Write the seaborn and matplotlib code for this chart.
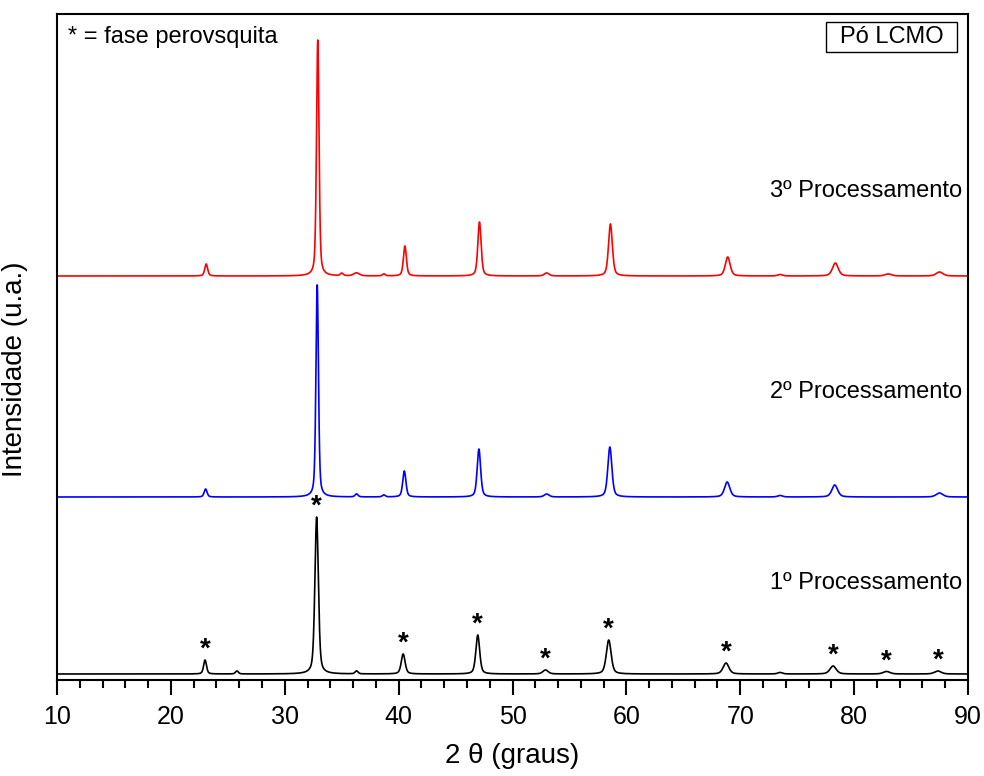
import numpy as np
import pandas as pd
import matplotlib
matplotlib.use("Agg")
import matplotlib.pyplot as plt
from matplotlib.patches import Rectangle
import seaborn as sns

# ---- data (intensity in arbitrary units) ----
pos_1 = [23.0, 25.8, 32.8, 36.3, 40.4, 46.95, 52.9, 58.45, 68.75, 73.5, 78.15, 82.85, 87.35]
h_1 = [14, 3, 157, 3, 20, 39, 4, 34, 11, 1.5, 8, 2.5, 3]
w_1 = [0.3, 0.3, 0.36, 0.3, 0.4, 0.4, 0.55, 0.5, 0.6, 0.5, 0.65, 0.7, 0.7]

pos_2 = [23.05, 32.85, 36.3, 38.7, 40.5, 47.05, 53.0, 58.55, 68.85, 73.5, 78.3, 87.5]
h_2 = [8, 213, 3, 2, 26, 48, 3, 50, 15, 1.5, 12, 4]
w_2 = [0.3, 0.26, 0.3, 0.3, 0.33, 0.36, 0.5, 0.42, 0.55, 0.5, 0.6, 0.7]

pos_3 = [23.1, 32.9, 35.0, 36.3, 38.7, 40.55, 47.1, 53.0, 58.6, 68.9, 73.5, 78.35, 83.0, 87.5]
h_3 = [12, 236, 2.5, 3, 2, 30, 54, 3, 52, 19, 1.5, 13, 2, 4]
w_3 = [0.3, 0.26, 0.3, 0.6, 0.3, 0.31, 0.34, 0.5, 0.4, 0.5, 0.5, 0.6, 0.7, 0.7]

offsets = [6, 183, 404]
labels = ["1º Processamento", "2º Processamento", "3º Processamento"]
label_y = [97, 288, 489]
colors = ["black", "blue", "red"]

star_pos = [23.0, 32.8, 40.4, 46.95, 52.9, 58.45, 68.75, 78.15, 82.85, 87.35]
star_h = [14, 157, 20, 39, 4, 34, 11, 8, 2.5, 3]

x_ticks = [10, 20, 30, 40, 50, 60, 70, 80, 90]


def pattern(x, pos, h, w):
    y = np.zeros_like(x)
    for p, a, fw in zip(pos, h, w):
        g = np.exp(-4 * np.log(2) * ((x - p) / fw) ** 2)
        l = 1.0 / (1.0 + 4 * ((x - p) / fw) ** 2)
        y += a * (0.55 * g + 0.45 * l)
    return y


x = np.arange(10.0, 90.0, 0.02)
frames = []
for pos, h, w, off, lab in zip([pos_1, pos_2, pos_3], [h_1, h_2, h_3],
                               [w_1, w_2, w_3], offsets, labels):
    frames.append(pd.DataFrame({"x": x, "y": pattern(x, pos, h, w) + off, "s": lab}))
df = pd.concat(frames, ignore_index=True)

sns.set_style("ticks")
plt.rcParams["font.family"] = ["Liberation Sans", "DejaVu Sans"]
plt.rcParams["text.color"] = "black"
plt.rcParams["axes.labelcolor"] = "black"
plt.rcParams["xtick.color"] = "black"
plt.rcParams["ytick.color"] = "black"

fig = plt.figure(figsize=(9.84, 7.76), dpi=100)
ax = fig.add_axes([57 / 984, 96 / 776, 911 / 984, 666 / 776])

sns.lineplot(data=df, x="x", y="y", hue="s", palette=dict(zip(labels, colors)),
             estimator=None, sort=False, linewidth=1.2, legend=False, ax=ax)

ax.set_xlim(10, 90)
ax.set_ylim(0, 666)
ax.set_xticks(x_ticks)
ax.set_xticks(np.arange(10, 91, 2), minor=True)
ax.set_yticks([])
ax.tick_params(axis="x", which="major", direction="out", length=11, width=1.5,
               labelsize=18, pad=7, colors="black")
ax.tick_params(axis="x", which="minor", direction="out", length=6, width=1.5,
               colors="black")
for sp in ax.spines.values():
    sp.set_visible(True)
    sp.set_linewidth(1.5)
    sp.set_color("black")

ax.set_xlabel("2 θ (graus)", fontsize=20, color="black")
ax.set_ylabel("Intensidade (u.a.)", fontsize=20, color="black")
ax.xaxis.set_label_coords(0.5, -0.095)
ax.yaxis.set_label_coords(-0.032, 0.467)

for lab, ly in zip(labels, label_y):
    ax.text(89.45, ly, lab, ha="right", va="center", fontsize=17, color="black")

for sp_, sh in zip(star_pos, star_h):
    ax.text(sp_, offsets[0] + sh - 3, "*", ha="center", va="bottom",
            fontsize=20, fontweight="bold", color="black")

ax.text(0.012, 0.965, "* = fase perovsquita", transform=ax.transAxes,
        ha="left", va="center", fontsize=17, color="black")
ax.add_patch(Rectangle((0.8441, 0.943), 0.1438, 0.045, transform=ax.transAxes,
                       fill=False, edgecolor="black", linewidth=1.0))
ax.text(0.916, 0.9655, "Pó LCMO", transform=ax.transAxes, ha="center",
        va="center", fontsize=17, color="black")

fig.savefig("out.png", dpi=100)
